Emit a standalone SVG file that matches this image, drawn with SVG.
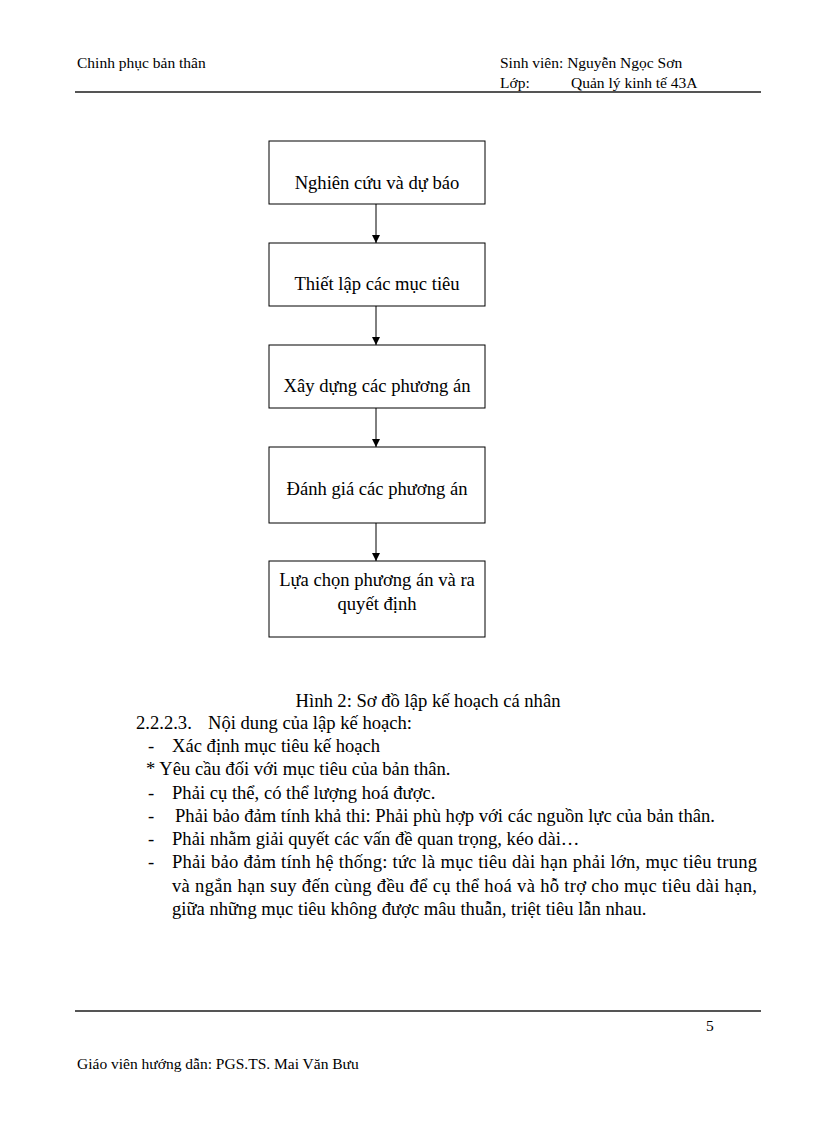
<svg xmlns="http://www.w3.org/2000/svg" width="816" height="1123" viewBox="0 0 816 1123" xml:space="preserve">
<style>
.h{font-family:"Liberation Serif",serif;font-size:15.5px;fill:#000}
.t{font-family:"Liberation Serif",serif;font-size:18.6px;fill:#000}
.m{text-anchor:middle}
.n{fill:#fff;stroke:#000;stroke-width:1}
.c{stroke:#000;stroke-width:1;fill:none}
</style>
<defs>
<marker id="a" markerWidth="10" markerHeight="10" refX="8" refY="4" orient="auto" markerUnits="userSpaceOnUse">
<path d="M0,0 L8,4 L0,8 Z" fill="#000"/>
</marker>
</defs>
<rect width="816" height="1123" fill="#fff"/>
<g id="header">
<text class="h" x="77" y="68">Chinh  phục bản thân</text>
<text class="h" x="500" y="68">Sinh viên:  Nguyễn  Ngọc Sơn</text>
<text class="h" x="500" y="88">Lớp:</text>
<text class="h" x="571" y="88">Quản lý kinh tế 43A</text>
<line x1="75" y1="92" x2="761" y2="92" stroke="#555" stroke-width="2"/>
</g>
<g id="connectors">
<line class="c" x1="376" y1="204" x2="376" y2="243" marker-end="url(#a)"/>
<line class="c" x1="376" y1="306" x2="376" y2="345" marker-end="url(#a)"/>
<line class="c" x1="376" y1="408" x2="376" y2="447" marker-end="url(#a)"/>
<line class="c" x1="376" y1="523" x2="376" y2="561" marker-end="url(#a)"/>
</g>
<g id="n1"><rect class="n" x="269" y="141" width="216" height="63"/><text class="t m" x="377" y="189">Nghiên  cứu và dự báo</text></g>
<g id="n2"><rect class="n" x="269" y="243" width="216" height="63"/><text class="t m" x="377" y="290">Thiết lập các mục tiêu</text></g>
<g id="n3"><rect class="n" x="269" y="345" width="216" height="63"/><text class="t m" x="377" y="392">Xây dựng các phương án</text></g>
<g id="n4"><rect class="n" x="269" y="447" width="216" height="76"/><text class="t m" x="377" y="495">Đánh giá  các phương án</text></g>
<g id="n5"><rect class="n" x="269" y="561" width="216" height="76"/><text class="t m" x="377" y="586">Lựa chọn phương án và ra</text><text class="t m" x="377" y="610">quyết định</text></g>
<g id="body">
<text class="t m" x="428" y="707">Hình 2: Sơ đồ lập kế hoạch cá nhân</text>
<text class="t" x="136" y="729">2.2.2.3.</text>
<text class="t" x="208" y="729">Nội dung của lập kế hoạch:</text>
<text class="t" x="148" y="752">-</text>
<text class="t" x="172" y="752">Xác định mục tiêu kế hoạch</text>
<text class="t" x="146" y="775">* Yêu cầu đối với mục tiêu  của bản thân.</text>
<text class="t" x="148" y="799">-</text>
<text class="t" x="172" y="799">Phải cụ thể, có thể lượng hoá được.</text>
<text class="t" x="148" y="822">-</text>
<text class="t" x="175" y="822">Phải bảo đảm tính khả thi:  Phải phù hợp với các nguồn lực  của bản thân.</text>
<text class="t" x="148" y="845">-</text>
<text class="t" x="172" y="845">Phải nhằm giải quyết các vấn đề quan trọng, kéo dài…</text>
<text class="t" x="148" y="868">-</text>
<text class="t" x="172" y="868" textLength="585" lengthAdjust="spacing">Phải bảo đảm tính hệ thống: tức là mục tiêu dài hạn phải lớn, mục tiêu trung</text>
<text class="t" x="172" y="892" textLength="585" lengthAdjust="spacing">và ngắn hạn suy đến cùng đều để cụ thể hoá và hỗ trợ cho mục tiêu dài hạn,</text>
<text class="t" x="172" y="915">giữa những mục tiêu không được mâu thuẫn, triệt tiêu lẫn nhau.</text>
</g>
<g id="footer">
<line x1="75" y1="1011" x2="761" y2="1011" stroke="#555" stroke-width="2"/>
<text class="h" x="706" y="1031">5</text>
<text class="h" x="77" y="1069">Giáo viên hướng  dẫn: PGS.TS. Mai Văn Bưu</text>
</g>
</svg>
